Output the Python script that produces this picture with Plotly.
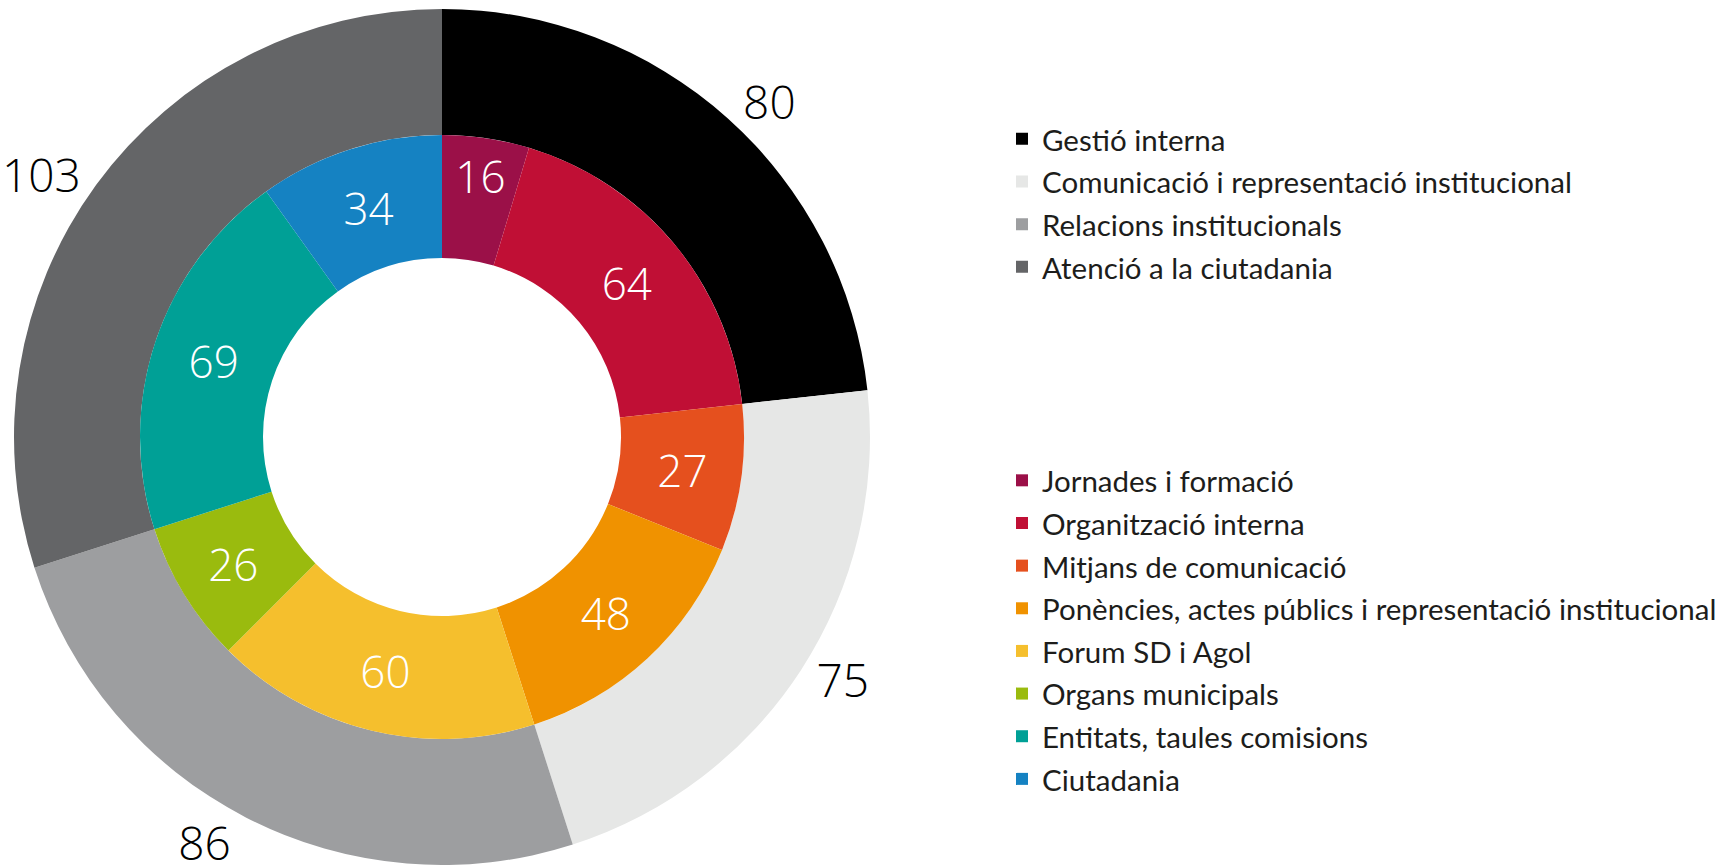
import plotly.graph_objects as go

# ---- data ----
outer_labels = ["Gestió interna", "Comunicació i representació institucional",
                "Relacions institucionals", "Atenció a la ciutadania"]
outer_values = [80, 75, 86, 103]
outer_colors = ["#000000", "#e6e7e6", "#9d9ea0", "#646567"]

inner_labels = ["Jornades i formació", "Organització interna", "Mitjans de comunicació",
                "Ponències, actes públics i representació institucional", "Forum SD i Agol",
                "Organs municipals", "Entitats, taules comisions", "Ciutadania"]
inner_values = [16, 64, 27, 48, 60, 26, 69, 34]
inner_colors = ["#9b1048", "#c00f35", "#e5501e", "#f09200", "#f5bf2d",
                "#9abb0e", "#00a096", "#1582c2"]

# ---- geometry (pixels) ----
W, H = 1728, 865
cx, cy = 442, 437
R_out, R_mid, R_in = 428, 302, 179


def dom(r):
    return dict(x=[(cx - r) / W, (cx + r) / W],
                y=[max(0, (H - cy - r) / H), min(1, (H - cy + r) / H)])


NUM_FONT = "Open Sans"
LEG_FONT = "Lato, sans-serif"
LEG_SIZE = 30.5      # sets the row spacing
LEG_TEXT = 29.5      # actual glyph size


def leg(s):
    return f"<span style='font-size:{LEG_TEXT}px'>{s}</span>"


fig = go.Figure()
fig.add_trace(go.Pie(
    labels=[leg(s) for s in outer_labels], values=outer_values,
    marker=dict(colors=outer_colors, line=dict(width=0)),
    domain=dom(R_out), hole=R_mid / R_out, sort=False, direction="clockwise", rotation=0,
    textinfo="value", textposition="outside",
    outsidetextfont=dict(color="#000000", size=46, family=NUM_FONT, weight=300),
    legend="legend", showlegend=True, hoverinfo="label+value",
))
fig.add_trace(go.Pie(
    labels=[leg(s) for s in inner_labels], values=inner_values,
    marker=dict(colors=inner_colors, line=dict(width=0)),
    domain=dom(R_mid), hole=R_in / R_mid, sort=False, direction="clockwise", rotation=0,
    textinfo="value", textposition="inside", insidetextorientation="horizontal",
    insidetextfont=dict(color="#ffffff", size=44, family=NUM_FONT, weight=300),
    legend="legend2", showlegend=True, hoverinfo="label+value",
))

leg_common = dict(xanchor="left", yanchor="top",
                  font=dict(family=LEG_FONT, size=LEG_SIZE, color="#1d1d1b"),
                  bgcolor="rgba(0,0,0,0)", itemclick=False, itemdoubleclick=False)
fig.update_layout(
    width=W, height=H,
    margin=dict(l=0, r=0, t=0, b=0, autoexpand=False),
    paper_bgcolor="white", plot_bgcolor="white",
    uniformtext=dict(minsize=44, mode="show"),
    legend=dict(x=1002 / W, y=1 - 112.5 / H, **leg_common),
    legend2=dict(x=1002 / W, y=1 - 454 / H, **leg_common),
)

fig.write_html("out.html", config={"displayModeBar": False},
               post_script="document.body.style.margin='0';document.body.style.overflow='hidden';")
